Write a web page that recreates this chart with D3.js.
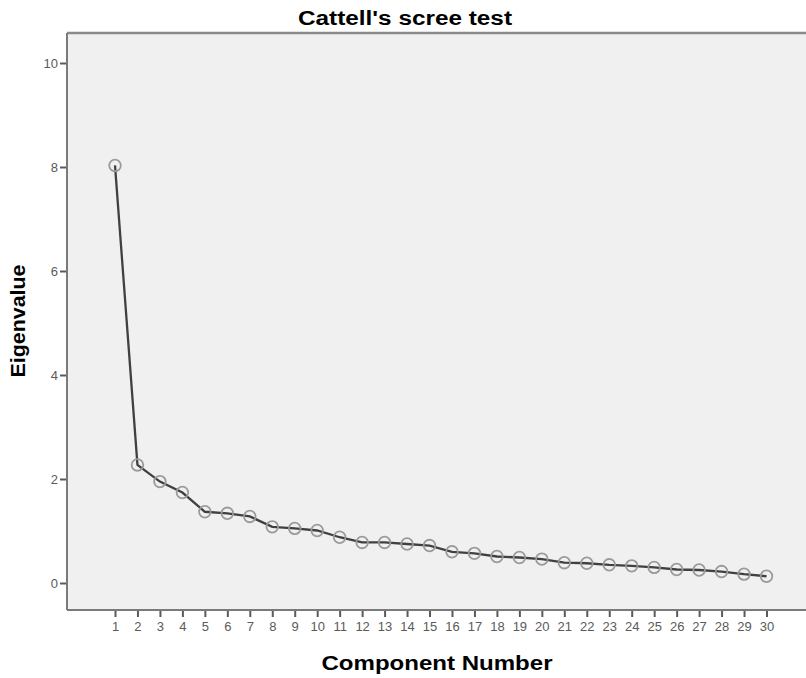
<!DOCTYPE html>
<html>
<head>
<meta charset="utf-8">
<script src="https://cdn.jsdelivr.net/npm/d3@7"></script>
<style>
  html, body { margin: 0; padding: 0; background: #ffffff; }
  svg { display: block; }
  text { font-family: "Liberation Sans", Arial, sans-serif; }
</style>
</head>
<body>
<svg id="chart" width="806" height="678"></svg>
<script>
// ---- data ----
const components = [1,2,3,4,5,6,7,8,9,10,11,12,13,14,15,16,17,18,19,20,21,22,23,24,25,26,27,28,29,30];
const eigenvalues = [8.03,2.27,1.95,1.74,1.37,1.34,1.28,1.08,1.05,1.01,0.88,0.78,0.78,0.75,0.72,0.60,0.57,0.51,0.49,0.46,0.39,0.38,0.35,0.33,0.30,0.26,0.25,0.22,0.17,0.13];
const yTicks = [0,2,4,6,8,10];
const title = "Cattell's scree test";
const xTitle = "Component Number";
const yTitle = "Eigenvalue";

// ---- layout ----
const plot = { left: 67, right: 806, top: 33, bottom: 610 };

const svg = d3.select("#chart");

const x = d3.scaleLinear().domain([1, 30]).range([115, 766.5]);
const y = d3.scaleLinear().domain([0, 10]).range([583, 63]);

// plot background
svg.append("rect")
  .attr("x", plot.left).attr("y", plot.top)
  .attr("width", plot.right - plot.left).attr("height", plot.bottom - plot.top)
  .attr("fill", "#f0f0f0");

// top border
svg.append("line")
  .attr("x1", plot.left).attr("x2", plot.right)
  .attr("y1", plot.top).attr("y2", plot.top)
  .attr("stroke", "#8a8a8a").attr("stroke-width", 2.5);

// y axis
const yAxis = d3.axisLeft(y).tickValues(yTicks).tickSize(7).tickPadding(2).tickFormat(d3.format("d"));
const gy = svg.append("g").attr("transform", `translate(${plot.left},0)`).call(yAxis);
gy.select(".domain").remove();
gy.append("line")
  .attr("x1", 0).attr("x2", 0).attr("y1", plot.top).attr("y2", plot.bottom)
  .attr("stroke", "#7a7a7a").attr("stroke-width", 2);
gy.selectAll(".tick line").attr("stroke", "#5a5a5a").attr("stroke-width", 2);
gy.selectAll(".tick text").attr("fill", "#5a5a5a").attr("font-size", 13)
  .attr("font-family", "'Liberation Sans', Arial, sans-serif");

// x axis
const xAxis = d3.axisBottom(x).tickValues(components).tickSize(7).tickPadding(5).tickFormat(d3.format("d"));
const gx = svg.append("g").attr("transform", `translate(0,${plot.bottom})`).call(xAxis);
gx.select(".domain").remove();
gx.append("line")
  .attr("x1", plot.left).attr("x2", plot.right).attr("y1", 0).attr("y2", 0)
  .attr("stroke", "#7a7a7a").attr("stroke-width", 2);
gx.selectAll(".tick line").attr("stroke", "#5a5a5a").attr("stroke-width", 2);
gx.selectAll(".tick text").attr("fill", "#5a5a5a").attr("font-size", 13)
  .attr("font-family", "'Liberation Sans', Arial, sans-serif");

// line
const data = components.map((c, i) => ({ c, v: eigenvalues[i] }));
svg.append("path")
  .datum(data)
  .attr("fill", "none")
  .attr("stroke", "#404040")
  .attr("stroke-width", 2.3)
  .attr("d", d3.line().x(d => x(d.c)).y(d => y(d.v)));

// markers
svg.append("g").selectAll("circle")
  .data(data).join("circle")
  .attr("cx", d => x(d.c)).attr("cy", d => y(d.v))
  .attr("r", 5.8)
  .attr("fill", "none")
  .attr("stroke", "#9a9a9a")
  .attr("stroke-width", 1.8);

// titles
svg.append("text")
  .attr("x", 405).attr("y", 25)
  .attr("text-anchor", "middle")
  .attr("font-size", 20).attr("font-weight", "bold").attr("fill", "#000")
  .attr("textLength", 214).attr("lengthAdjust", "spacingAndGlyphs")
  .text(title);

svg.append("text")
  .attr("x", 437).attr("y", 670)
  .attr("text-anchor", "middle")
  .attr("font-size", 20).attr("font-weight", "bold").attr("fill", "#000")
  .attr("textLength", 231).attr("lengthAdjust", "spacingAndGlyphs")
  .text(xTitle);

svg.append("text")
  .attr("transform", "translate(25,321) rotate(-90)")
  .attr("text-anchor", "middle")
  .attr("font-size", 20).attr("font-weight", "bold").attr("fill", "#000")
  .attr("textLength", 113).attr("lengthAdjust", "spacingAndGlyphs")
  .text(yTitle);
</script>
</body>
</html>
